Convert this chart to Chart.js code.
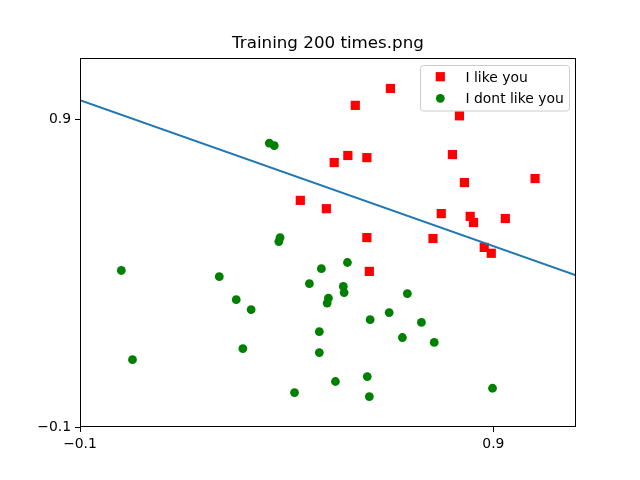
<!DOCTYPE html>
<html>
<head>
<meta charset="utf-8">
<script src="https://cdn.jsdelivr.net/npm/chart.js@4/dist/chart.umd.min.js"></script>
<style>
  html, body { margin: 0; padding: 0; background: #fff; }
  #wrap { width: 640px; height: 480px; }
</style>
</head>
<body>
<div id="wrap"><canvas id="chart" width="640" height="480"></canvas></div>
<script>
// points
const likeX = [0.651, 0.566, 0.818, 0.548, 0.594, 0.515, 0.801, 1.001, 0.830, 0.433,
               0.496, 0.774, 0.844, 0.852, 0.929, 0.594, 0.754, 0.878, 0.895, 0.600];
const likeY = [1.001, 0.946, 0.912, 0.783, 0.776, 0.760, 0.786, 0.708, 0.695, 0.637,
               0.610, 0.594, 0.585, 0.565, 0.578, 0.516, 0.513, 0.484, 0.465, 0.406];

const dislikeX = [0.358, 0.370, 0.384, 0.381, 0.000, 0.237, 0.278, 0.314, 0.294, 0.027,
                  0.419, 0.455, 0.484, 0.547, 0.537, 0.539, 0.501, 0.498, 0.692, 0.648,
                  0.602, 0.726, 0.479, 0.680, 0.757, 0.479, 0.518, 0.595, 0.600, 0.898];
const dislikeY = [0.823, 0.815, 0.516, 0.503, 0.409, 0.389, 0.314, 0.282, 0.155, 0.119,
                  0.012, 0.366, 0.415, 0.435, 0.357, 0.337, 0.319, 0.303, 0.334, 0.272,
                  0.249, 0.240, 0.210, 0.191, 0.175, 0.142, 0.048, 0.064, -0.001, 0.026];

// decision line
const lineX = [-0.1, 1.1];
const lineY = [0.963, 0.393];

const xTicks = [-0.1, 0.9];
const yTicks = [-0.1, 0.9];

const titleText = "Training 200 times.png";
const FONT = "'DejaVu Sans', sans-serif";

function fmt(v) {
    return v.toFixed(1).replace("-", "\u2212");
}

function toPoints(xs, ys) {
    return xs.map((x, i) => ({ x: x, y: ys[i] }));
}

// frame, title and legend like matplotlib
const extras = {
    id: "extras",
    afterDraw(chart) {
        let ctx = chart.ctx;
        let a = chart.chartArea;
        ctx.save();

        // four spines
        ctx.strokeStyle = "#000";
        ctx.lineWidth = 1;
        ctx.strokeRect(a.left + 0.5, a.top + 0.5, a.right - a.left - 1, a.bottom - a.top - 1);

        // title
        ctx.fillStyle = "#000";
        ctx.font = "16.7px " + FONT;
        ctx.textAlign = "center";
        ctx.textBaseline = "alphabetic";
        ctx.fillText(titleText, (a.left + a.right) / 2, 48.2);

        // legend box
        let bx = 420.5, by = 65.5, bw = 149, bh = 45.5, r = 3;
        ctx.beginPath();
        ctx.moveTo(bx + r, by);
        ctx.arcTo(bx + bw, by, bx + bw, by + bh, r);
        ctx.arcTo(bx + bw, by + bh, bx, by + bh, r);
        ctx.arcTo(bx, by + bh, bx, by, r);
        ctx.arcTo(bx, by, bx + bw, by, r);
        ctx.closePath();
        ctx.fillStyle = "rgba(255,255,255,0.8)";
        ctx.fill();
        ctx.strokeStyle = "#cccccc";
        ctx.stroke();

        let sets = chart.data.datasets.slice(1);
        let rowsY = [76.7, 98.3];
        sets.forEach((ds, i) => {
            let y = rowsY[i];
            ctx.fillStyle = ds.backgroundColor;
            if (ds.pointStyle === "rect") {
                ctx.fillRect(440.3 - 4.6, y - 4.6, 9.2, 9.2);
            } else {
                ctx.beginPath();
                ctx.arc(440.3, y, 4.4, 0, Math.PI * 2);
                ctx.fill();
            }
            ctx.fillStyle = "#000";
            ctx.font = "13.9px " + FONT;
            ctx.textAlign = "left";
            ctx.textBaseline = "alphabetic";
            ctx.fillText(ds.label, 465.5, y + 5.1);
        });

        ctx.restore();
    }
};

function axisOpts(ticksList, fit) {
    return {
        type: "linear",
        min: -0.1,
        max: 1.1,
        afterBuildTicks: s => { s.ticks = ticksList.map(v => ({ value: v })); },
        afterFit: fit,
        ticks: {
            callback: v => fmt(v),
            color: "#000",
            font: { family: FONT, size: 13.9 },
            padding: 4,
            maxRotation: 0,
            autoSkip: false
        },
        grid: {
            drawOnChartArea: false,
            drawTicks: true,
            tickLength: 5,
            tickColor: "#000",
            color: "#000"
        },
        border: { display: false }
    };
}

let ctx = document.getElementById("chart");

new Chart(ctx, {
    type: "scatter",
    data: {
        datasets: [
            {
                type: "line",
                label: "line",
                data: toPoints(lineX, lineY),
                borderColor: "#1f77b4",
                borderWidth: 2,
                pointRadius: 0,
                fill: false,
                tension: 0
            },
            {
                label: "I like you",
                data: toPoints(likeX, likeY),
                pointStyle: "rect",
                pointRadius: 6.5,
                backgroundColor: "#ff0000",
                borderColor: "#ff0000",
                borderWidth: 0
            },
            {
                label: "I dont like you",
                data: toPoints(dislikeX, dislikeY),
                pointStyle: "circle",
                pointRadius: 4.4,
                backgroundColor: "#008000",
                borderColor: "#008000",
                borderWidth: 0
            }
        ]
    },
    options: {
        responsive: false,
        animation: false,
        devicePixelRatio: 1,
        layout: { padding: { top: 58, right: 64, left: 0, bottom: 0 } },
        plugins: {
            legend: { display: false },
            title: { display: false },
            tooltip: { enabled: false }
        },
        scales: {
            x: axisOpts(xTicks, s => { s.height = 53; }),
            y: axisOpts(yTicks, s => { s.width = 80; })
        }
    },
    plugins: [extras]
});
</script>
</body>
</html>
